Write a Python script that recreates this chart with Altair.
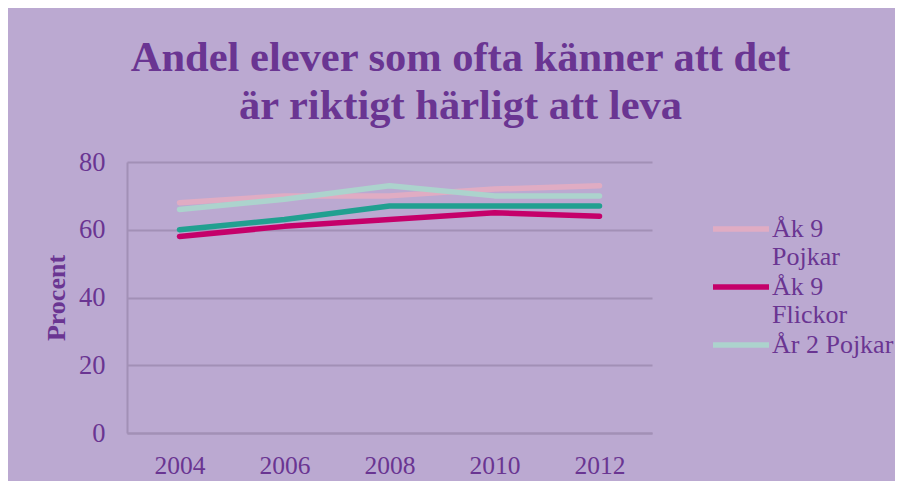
import altair as alt
import pandas as pd

years = ["2004", "2006", "2008", "2010", "2012"]
series = ["Åk 9 Pojkar", "Åk 9 Flickor", "År 2 Pojkar", "År 2 Flickor"]
ak9_pojkar = [68, 70, 70, 72, 73]
ak9_flickor = [58, 61, 63, 65, 64]
ar2_pojkar = [66, 69, 73, 70, 70]
ar2_flickor = [60, 63, 67, 67, 67]
colors = ["#e0acc3", "#c5006a", "#acd3cd", "#21a090"]
title_lines = ["Andel elever som ofta känner att det", "är riktigt härligt att leva"]
legend_shown = series[:3]

rows = []
for name, vals in zip(series, [ak9_pojkar, ak9_flickor, ar2_pojkar, ar2_flickor]):
    for i, (y, v) in enumerate(zip(years, vals)):
        rows.append({"År": y, "Procent": v, "Grupp": name, "ord": series.index(name)})
df = pd.DataFrame(rows)

TXT = "#6a3592"
FONT = "Liberation Serif"
GRID = "#a290b6"

label_expr = (
    "datum.label == 'Åk 9 Pojkar' ? ['Åk 9', 'Pojkar'] : "
    "datum.label == 'Åk 9 Flickor' ? ['Åk 9', 'Flickor'] : datum.label"
)

chart = (
    alt.Chart(df)
    .mark_line(strokeWidth=5.5, strokeCap="round", strokeJoin="round")
    .encode(
        x=alt.X(
            "År:O",
            sort=years,
            scale=alt.Scale(type="point", padding=0.5),
            axis=alt.Axis(
                title=None, labelAngle=0, labelFontSize=25.5, labelFont=FONT,
                labelColor=TXT, labelPadding=20, ticks=False, domainColor=GRID,
                domainWidth=2, grid=False,
            ),
        ),
        y=alt.Y(
            "Procent:Q",
            scale=alt.Scale(domain=[0, 80]),
            axis=alt.Axis(
                values=[0, 20, 40, 60, 80], title="Procent", titleFontSize=26,
                titleFont=FONT, titleFontWeight="bold", titleColor=TXT,
                titleX=-58, titleY=135.5, labelFontSize=26.5, labelFont=FONT,
                labelColor=TXT, labelPadding=22, ticks=False, domainColor=GRID,
                domainWidth=2, gridColor=GRID, gridWidth=2,
            ),
        ),
        color=alt.Color(
            "Grupp:N",
            sort=series,
            scale=alt.Scale(domain=series, range=colors),
            legend=alt.Legend(
                title=None, orient="none", legendX=597, legendY=50,
                values=legend_shown, symbolType="M-2,0H2", symbolSize=784,
                symbolStrokeWidth=5.5, labelFontSize=26, labelFont=FONT,
                labelColor=TXT, labelExpr=label_expr, labelOffset=14,
                labelBaseline="middle", rowPadding=0, padding=0, labelLimit=300,
            ),
        ),
        order="ord:Q",
    )
    .properties(
        width=525,
        height=271,
        autosize=alt.AutoSizeParams(type="none"),
        padding={"left": 119, "top": 154, "right": 243, "bottom": 48},
        background="#bba9d1",
        title=alt.TitleParams(
            text=title_lines, fontSize=42.5, font=FONT, fontWeight="bold",
            color=TXT, lineHeight=48, anchor="middle", dx=71, offset=22,
        ),
    )
    .configure_view(stroke=None)
)

chart.save("out.html", embed_options={"renderer": "svg", "actions": False})
